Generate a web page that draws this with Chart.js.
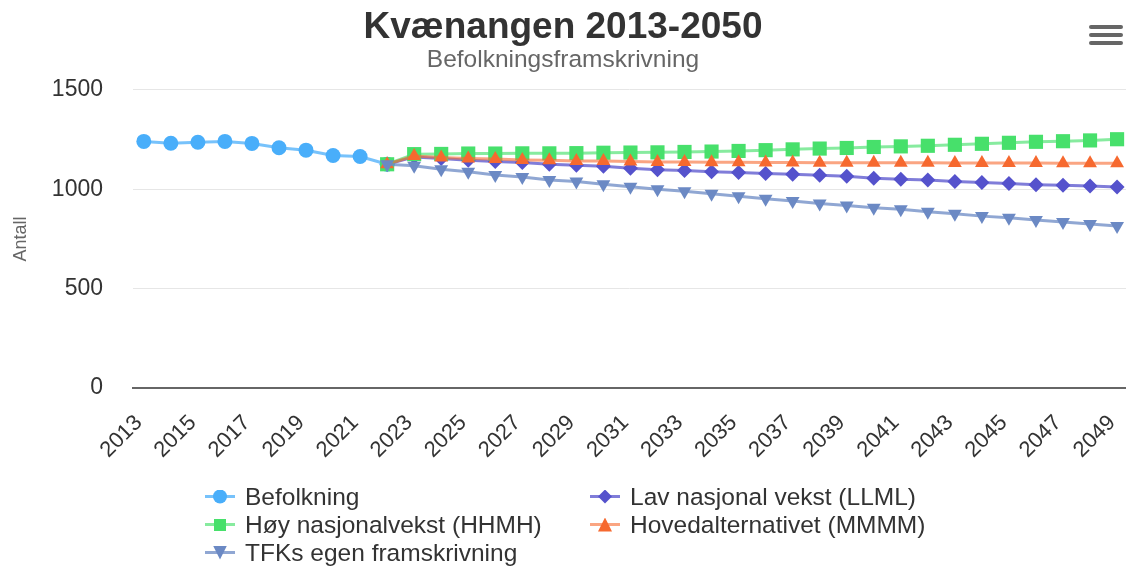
<!DOCTYPE html>
<html>
<head>
<meta charset="utf-8">
<script src="https://cdn.jsdelivr.net/npm/chart.js@4.4.0/dist/chart.umd.min.js"></script>
<style>
  body { margin: 0; background: #fff; overflow: hidden; font-family: 'Liberation Sans', Arial, sans-serif; }
  #wrap { position: relative; width: 1126px; height: 566px; }
  #menu { position: absolute; left: 1089px; top: 25px; width: 34px; }
  #menu div { height: 4px; background: #666; border-radius: 2px; margin-bottom: 4px; }
  #legend { position: absolute; left: 0; top: 0; width: 1126px; height: 566px; pointer-events: none; }
  .item { position: absolute; height: 28px; display: flex; align-items: center; font-size: 24.5px; color: #333; white-space: nowrap; }
  .sym { position: relative; width: 30px; height: 28px; margin-right: 10px; }
  .sym .ln { position: absolute; left: 0; right: 0; top: 12px; height: 3px; }
  .sym .mk { position: absolute; width: 14px; height: 14px; left: 8px; top: 6.5px; }
</style>
</head>
<body>
<div id="wrap">
  <canvas id="chart" width="1126" height="566"></canvas>
  <div id="menu"><div></div><div></div><div></div></div>
  <div id="legend"></div>
</div>
<script>
// Data
const years = [2013, 2014, 2015, 2016, 2017, 2018, 2019, 2020, 2021, 2022, 2023, 2024, 2025,
  2026, 2027, 2028, 2029, 2030, 2031, 2032, 2033, 2034, 2035, 2036, 2037, 2038, 2039, 2040,
  2041, 2042, 2043, 2044, 2045, 2046, 2047, 2048, 2049];
const tickYears = [2013, 2015, 2017, 2019, 2021, 2023, 2025, 2027, 2029, 2031, 2033, 2035,
  2037, 2039, 2041, 2043, 2045, 2047, 2049];
const yTicks = [0, 500, 1000, 1500];

const befolkning = [1241, 1232, 1237, 1241, 1231, 1209, 1197, 1170, 1165, 1126];
const lavVekst = [null, null, null, null, null, null, null, null, null,
  1126, 1163, 1155, 1146, 1140, 1135, 1126, 1121, 1116, 1106, 1099, 1094, 1088, 1084,
  1079, 1076, 1071, 1066, 1056, 1051, 1047, 1039, 1034, 1029, 1023, 1020, 1016, 1011];
const hoyVekst = [null, null, null, null, null, null, null, null, null,
  1126, 1177, 1178, 1180, 1180, 1181, 1181, 1182, 1184, 1185, 1186, 1188, 1190, 1193,
  1197, 1201, 1205, 1208, 1213, 1216, 1219, 1224, 1229, 1234, 1239, 1242, 1246, 1252];
const hovedalt = [null, null, null, null, null, null, null, null, null,
  1126, 1168, 1160, 1155, 1152, 1148, 1146, 1143, 1143, 1140, 1138, 1138, 1136, 1136,
  1135, 1135, 1134, 1134, 1133, 1133, 1133, 1132, 1132, 1132, 1132, 1131, 1131, 1131];
const tfk = [null, null, null, null, null, null, null, null, null,
  1126, 1118, 1101, 1088, 1072, 1062, 1047, 1039, 1025, 1013, 1000, 990, 978, 965,
  953, 941, 929, 919, 907, 899, 887, 877, 865, 857, 845, 835, 825, 815];

function points(values) {
    const out = [];
    values.forEach(function(v, i) {
        if (v !== null) out.push({ x: years[i], y: v });
    });
    return out;
}

const font = "'Liberation Sans', Arial, sans-serif";

// series, in legend order
const series = [
    { label: 'Befolkning', data: befolkning, color: '#49aefa', line: 'rgba(73,174,250,0.75)', style: 'circle', radius: 7.5, order: 4, shape: 'circle' },
    { label: 'Lav nasjonal vekst (LLML)', data: lavVekst, color: '#5552cc', line: 'rgba(85,82,204,0.75)', style: 'rectRot', radius: 7.5, order: 3, shape: 'diamond' },
    { label: 'Høy nasjonalvekst (HHMH)', data: hoyVekst, color: '#47e06b', line: 'rgba(71,224,107,0.65)', style: 'rect', radius: 10, order: 2, shape: 'square' },
    { label: 'Hovedalternativet (MMMM)', data: hovedalt, color: '#f6692f', line: 'rgba(246,105,47,0.6)', style: 'triangle', radius: 8, order: 1, shape: 'up' },
    { label: 'TFKs egen framskrivning', data: tfk, color: '#6b89c4', line: 'rgba(107,137,196,0.75)', style: 'triangle', radius: 8, order: 0, shape: 'down', rot: 180 }
];

const chart = new Chart(document.getElementById('chart'), {
    type: 'line',
    data: {
        datasets: series.map(function(s) {
            return {
                label: s.label,
                data: points(s.data),
                borderColor: s.line,
                backgroundColor: s.color,
                borderWidth: 3,
                pointStyle: s.style,
                pointRadius: s.radius,
                pointRotation: s.rot || 0,
                pointBorderWidth: 0,
                pointBackgroundColor: s.color,
                order: s.order,
                tension: 0,
                clip: 12
            };
        })
    },
    options: {
        responsive: false,
        animation: false,
        devicePixelRatio: 1,
        layout: { autoPadding: false, padding: { left: 0, right: 0, top: 0, bottom: 0 } },
        plugins: {
            legend: { display: false },
            tooltip: { enabled: false },
            title: {
                display: true,
                text: 'Kvænangen 2013-2050',
                color: '#333',
                font: { family: font, size: 37, weight: 'bold', lineHeight: 1.0 },
                padding: { top: 9, bottom: 0 }
            },
            subtitle: {
                display: true,
                text: 'Befolkningsframskrivning',
                color: '#666',
                font: { family: font, size: 24.5, lineHeight: 1.1 },
                padding: { top: 1, bottom: 16 }
            }
        },
        scales: {
            x: {
                type: 'linear',
                min: 2012.6,
                max: 2049.33,
                afterBuildTicks: function(scale) {
                    scale.ticks = tickYears.map(function(v) { return { value: v }; });
                },
                afterFit: function(scale) {
                    scale.height = 178;
                    scale.paddingLeft = 0;
                    scale.paddingRight = 0;
                },
                grid: { display: false },
                border: { display: true, color: '#666', width: 2 },
                ticks: {
                    autoSkip: false,
                    maxRotation: 45,
                    minRotation: 45,
                    padding: 14,
                    labelOffset: -5,
                    color: '#333',
                    font: { family: font, size: 22 },
                    callback: function(v) { return String(v); }
                }
            },
            y: {
                min: 0,
                max: 1500,
                afterBuildTicks: function(scale) {
                    scale.ticks = yTicks.map(function(v) { return { value: v }; });
                },
                afterFit: function(scale) { scale.width = 133; },
                grid: {
                    color: function(ctx) { return ctx.tick && ctx.tick.value === 0 ? 'rgba(0,0,0,0)' : '#e6e6e6'; },
                    drawTicks: false
                },
                border: { display: false },
                ticks: {
                    padding: 30,
                    color: '#333',
                    font: { family: font, size: 23 },
                    callback: function(v) { return String(v); }
                },
                title: {
                    display: true,
                    text: 'Antall',
                    color: '#666',
                    font: { family: font, size: 18 },
                    padding: { top: 10, bottom: 0 }
                }
            }
        }
    }
});

// HTML legend, two columns like the original
const legend = document.getElementById('legend');
const clip = {
    circle: 'circle(50% at 50% 50%)',
    square: 'none',
    diamond: 'polygon(50% 0, 100% 50%, 50% 100%, 0 50%)',
    up: 'polygon(50% 0, 100% 100%, 0 100%)',
    down: 'polygon(0 0, 100% 0, 50% 100%)'
};
const cols = [205, 590];
const rows = [483, 511, 539];
series.forEach(function(s, i) {
    const item = document.createElement('div');
    item.className = 'item';
    item.style.left = cols[i % 2] + 'px';
    item.style.top = rows[Math.floor(i / 2)] + 'px';
    const sym = document.createElement('div');
    sym.className = 'sym';
    const ln = document.createElement('div');
    ln.className = 'ln';
    ln.style.background = s.line;
    const mk = document.createElement('div');
    mk.className = 'mk';
    mk.style.background = s.color;
    if (clip[s.shape] !== 'none') mk.style.clipPath = clip[s.shape];
    if (s.shape === 'square') { mk.style.width = '12px'; mk.style.height = '12px'; mk.style.left = '9px'; mk.style.top = '7.5px'; }
    sym.appendChild(ln);
    sym.appendChild(mk);
    const txt = document.createElement('span');
    txt.textContent = s.label;
    item.appendChild(sym);
    item.appendChild(txt);
    legend.appendChild(item);
});
</script>
</body>
</html>
